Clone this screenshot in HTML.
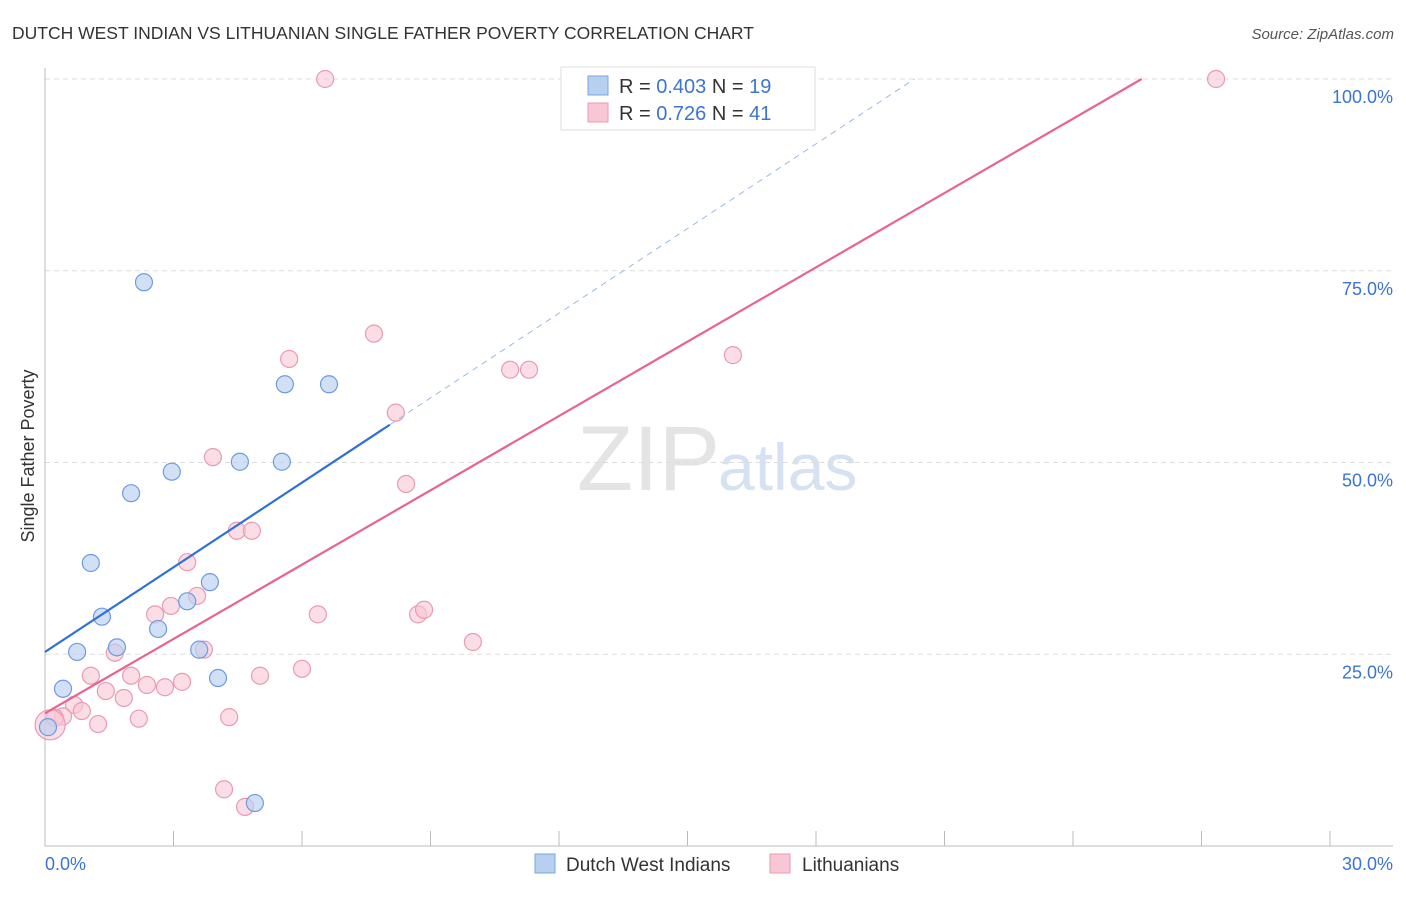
<!DOCTYPE html>
<html><head><meta charset="utf-8"><style>
body{margin:0;background:#fff;font-family:"Liberation Sans",sans-serif}
svg text{font-family:"Liberation Sans",sans-serif}
</style></head><body>
<svg id="c" width="1406" height="892">
<text x="12" y="39" font-size="17.5" fill="#333">DUTCH WEST INDIAN VS LITHUANIAN SINGLE FATHER POVERTY CORRELATION CHART</text>
<text x="1394" y="39" font-size="15" fill="#555" text-anchor="end" font-style="italic">Source: ZipAtlas.com</text>
<text x="34" y="456" font-size="18" fill="#333" text-anchor="middle" transform="rotate(-90 34 456)">Single Father Poverty</text>
<text x="720" y="490" font-size="92" fill="#e4e4e4" text-anchor="end" font-family="Liberation Serif">ZIP</text>
<text x="718" y="490" font-size="66" fill="#d6e2f4">atlas</text>
<g id="grid"></g><g id="marks"></g>
<g>
<rect x="561" y="67" width="254" height="63" fill="#fff" stroke="#ddd"/>
<rect x="588" y="76" width="20" height="19" fill="#b8d0f0" stroke="#7aa4e0"/>
<rect x="588" y="103" width="20" height="19" fill="#f9c6d5" stroke="#eb9ab4"/>
<text x="619" y="93" font-size="20" fill="#333">R = <tspan fill="#3b74d4">0.403</tspan>   N = <tspan fill="#3b74d4">19</tspan></text>
<text x="619" y="120" font-size="20" fill="#333">R =  <tspan fill="#3b74d4">0.726</tspan>   N = <tspan fill="#3b74d4">41</tspan></text>
</g>
<g>
<rect x="535" y="854" width="20" height="19" fill="#b8d0f0" stroke="#7aa4e0"/>
<text x="566" y="871" font-size="19" fill="#333">Dutch West Indians</text>
<rect x="770" y="854" width="20" height="19" fill="#f9c6d5" stroke="#eb9ab4"/>
<text x="802" y="871" font-size="19" fill="#333">Lithuanians</text>
</g>
</svg>
<script>
const blueX=[0.07,0.42,0.75,1.07,1.33,1.68,2.01,2.31,2.64,2.96,3.32,3.60,3.85,4.04,4.55,4.90,5.53,5.60,6.63];
const blueY=[15.5,20.5,25.3,36.9,29.9,25.9,46.0,73.5,28.3,48.8,31.9,25.6,34.4,21.9,50.1,5.6,50.1,60.2,60.2];
const pinkX=[6.54,27.34,7.68,5.70,16.06,10.86,11.30,8.19,3.92,8.43,4.48,4.83,3.32,3.55,2.57,2.94,6.37,8.71,8.85,9.99,1.63,3.71,1.07,2.01,6.00,2.38,2.80,3.20,1.42,1.84,5.02,0.68,0.86,0.42,0.23,1.24,2.19,4.30,4.18,4.67,0.12];
const pinkY=[100,100,66.8,63.5,64.0,62.1,62.1,56.5,50.7,47.2,41.1,41.1,37.0,32.6,30.2,31.3,30.2,30.2,30.8,26.6,25.2,25.6,22.2,22.2,23.1,21.0,20.7,21.4,20.2,19.3,22.2,18.4,17.6,16.9,16.7,15.9,16.6,16.8,7.4,5.1,15.8];
const blueLine=[25.3,3.68];   // intercept, slope
const pinkLine=[17.3,3.23];
const yTicks=[25,50,75,100];
const xTickLabels=["0.0%","30.0%"];
const NS="http://www.w3.org/2000/svg";
const sx=v=>45+v/30*1285, sy=v=>846-v/100*767;
function mk(t,a,p){const e=document.createElementNS(NS,t);for(const k in a)e.setAttribute(k,a[k]);p.appendChild(e);return e;}
const g=document.getElementById('grid'), m=document.getElementById('marks');
yTicks.forEach(t=>{
 const l=mk('line',{x1:45,x2:1393,y1:sy(t),y2:sy(t),stroke:'#ddd','stroke-dasharray':'5,4'},g);
 
 
 const tx=mk('text',{x:1393,y:sy(t)+24,'font-size':18,fill:'#3b74d4','text-anchor':'end'},g);tx.textContent=t.toFixed(1)+'%';
 
 
});
const ax=mk('path',{d:'M45 68V846H1393',stroke:'#bbb',fill:'none'},g);


for(let i=1;i<=10;i++){const x=45+i*128.5;const t=mk('line',{x1:x,x2:x,y1:831,y2:846,stroke:'#bbb'},g);
 
 }
[[0,'start',45],[1,'end',1393]].forEach(([i,a,x])=>{const t=mk('text',{x:x,y:870,'font-size':18,fill:'#3b74d4','text-anchor':a},g);t.textContent=xTickLabels[i];
 
 });
// pink points
pinkX.forEach((x,i)=>{const big=i===pinkX.length-1;const c=mk('circle',{cx:sx(x),cy:sy(pinkY[i]),r:big?15:8.5,fill:'#f9c6d5','fill-opacity':0.6,stroke:'#eb9ab4','stroke-width':1.2},m);
 
 });
blueX.forEach((x,i)=>{const c=mk('circle',{cx:sx(x),cy:sy(blueY[i]),r:8.5,fill:'#b8d0f0','fill-opacity':0.65,stroke:'#6e9be0','stroke-width':1.2},m);
 
 });
const bEnd=8.05, bDash=(100-blueLine[0])/blueLine[1], pEnd=(100-pinkLine[0])/pinkLine[1];
const l1=mk('line',{x1:sx(0),y1:sy(blueLine[0]),x2:sx(bEnd),y2:sy(blueLine[0]+blueLine[1]*bEnd),stroke:'#2f72d6','stroke-width':2.2},m);


const l2=mk('line',{x1:sx(bEnd),y1:sy(blueLine[0]+blueLine[1]*bEnd),x2:sx(bDash),y2:sy(100),stroke:'#9bb9e6','stroke-width':1,'stroke-dasharray':'6,5'},m);


const l3=mk('line',{x1:sx(0),y1:sy(pinkLine[0]),x2:sx(pEnd),y2:sy(100),stroke:'#e8648f','stroke-width':2.2},m);


</script>
</body></html>
